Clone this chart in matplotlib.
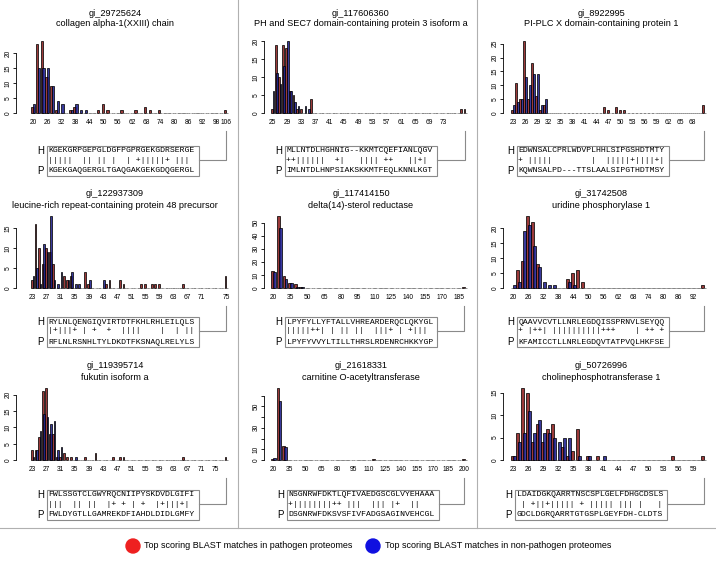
import matplotlib

matplotlib.use("Agg")
import matplotlib.pyplot as plt
from matplotlib.patches import Rectangle, Circle

W, H = 716, 562
RED = "#8e1f1f"
BLUE = "#1f1f8e"
GREY = "#707070"

# ---- data: counts of top BLAST matches by length bin -------------------
P1_RED = {20: 2, 22: 23, 24: 24, 26: 12, 28: 9, 30: 1, 36: 1, 38: 2, 48: 1, 50: 3,
          52: 1, 58: 1, 64: 1, 68: 2, 70: 1, 74: 1, 102: 1}
P1_BLUE = {20: 3, 22: 15, 24: 15, 26: 15, 28: 9, 30: 4, 32: 3, 36: 1, 38: 3, 40: 1, 42: 1}
P1_XLABELS = ["20", "26", "32", "38", "44", "50", "56", "62", "68", "74", "80", "86", "92", "98", "106"]

P2_RED = {25: 1, 26: 19, 27: 10, 28: 19, 29: 18, 30: 6, 31: 5, 32: 1, 33: 1, 36: 4, 78: 1, 79: 1}
P2_BLUE = {25: 6, 26: 11, 27: 8, 28: 13, 29: 20, 30: 6, 31: 3, 32: 2, 34: 2, 35: 1}
P2_XLABELS = ["25", "29", "33", "37", "41", "45", "49", "53", "57", "61", "65", "69", "73"]

P3_RED = {23: 1, 24: 11, 25: 5, 26: 26, 27: 5, 28: 18, 29: 6, 30: 1, 31: 3, 46: 2, 47: 1,
          49: 2, 50: 1, 51: 1, 71: 3}
P3_BLUE = {23: 3, 24: 4, 25: 5, 26: 13, 27: 10, 28: 14, 29: 14, 30: 3, 31: 5}
P3_XLABELS = ["23", "26", "29", "32", "35", "38", "41", "44", "47", "50", "53", "56", "59", "62", "65", "68"]

P4_RED = {23: 2, 24: 16, 25: 10, 26: 6, 27: 10, 28: 9, 29: 6, 32: 3, 33: 2, 34: 3, 38: 4,
          39: 1, 44: 1, 45: 2, 48: 2, 49: 1, 54: 1, 55: 1, 57: 1, 58: 1, 59: 1, 66: 1, 78: 3}
P4_BLUE = {23: 3, 24: 5, 25: 1, 26: 11, 27: 9, 28: 18, 29: 2, 30: 1, 31: 4, 33: 2, 34: 4,
           35: 1, 36: 1, 39: 2, 43: 2}
P4_XLABELS = ["23", "27", "31", "35", "39", "43", "47", "51", "55", "59", "63", "67", "71", "75"]

P5_RED = {20: 13, 25: 55, 30: 9, 35: 4, 40: 3, 45: 1, 190: 1}
P5_BLUE = {20: 12, 25: 46, 30: 7, 35: 4, 40: 1, 45: 1}
P5_XLABELS = ["20", "35", "50", "65", "80", "95", "110", "125", "140", "155", "170", "185"]

P6_RED = {22: 6, 24: 9, 26: 24, 28: 22, 30: 8, 42: 3, 44: 5, 46: 6, 48: 2, 96: 1}
P6_BLUE = {20: 1, 22: 2, 24: 19, 26: 21, 28: 14, 30: 7, 32: 2, 34: 1, 36: 1, 42: 2, 44: 1}
P6_XLABELS = ["20", "26", "32", "38", "44", "50", "56", "62", "68", "74", "80", "86", "92"]

P7_RED = {23: 3, 24: 3, 25: 7, 26: 21, 27: 22, 28: 8, 29: 8, 30: 1, 31: 1, 32: 2, 33: 1,
          34: 1, 38: 1, 41: 2, 46: 1, 48: 1, 49: 1, 66: 1, 78: 1}
P7_BLUE = {23: 1, 24: 3, 25: 9, 26: 14, 27: 13, 28: 11, 29: 12, 30: 3, 31: 4, 35: 1}
P7_XLABELS = ["23", "27", "31", "35", "39", "43", "47", "51", "55", "59", "63", "67", "71", "75"]

P8_RED = {20: 1, 25: 67, 30: 13, 115: 1, 200: 1}
P8_BLUE = {20: 2, 25: 55, 30: 12}
P8_XLABELS = ["20", "35", "50", "65", "80", "95", "110", "125", "140", "155", "170", "185", "200"]

P9_RED = {23: 1, 24: 6, 25: 16, 26: 15, 27: 4, 28: 8, 29: 4, 30: 7, 31: 8, 33: 3, 34: 1,
          35: 2, 36: 7, 38: 1, 40: 1, 55: 1, 61: 1}
P9_BLUE = {23: 1, 24: 4, 25: 6, 26: 11, 27: 6, 28: 9, 29: 6, 30: 6, 31: 5, 32: 4, 33: 5,
           34: 5, 36: 1, 38: 1, 41: 1}
P9_XLABELS = ["23", "26", "29", "32", "35", "38", "41", "44", "47", "50", "53", "56", "59"]

# alignments: human (H), match line, pathogen (P)
ALIGN = [
    ("KGEKGRPGEPGLDGFPGPRGEKGDRSERGE", "|||||  || || |  | +|||||+ ||| ", "KGEKGAQGERGLTGAQGAKGEKGDQGERGL"),
    ("MLLNTDLHGHNIG--KKMTCQEFIANLQGV", "++||||||  +|   |||| ++   ||+| ", "IMLNTDLHNPSIAKSKKMTFEQLKNNLKGT"),
    ("EDWNSALCPRLWDVPLHHLSIPGSHDTMTY", "+ |||||        |  |||||+||||+|", "KQWNSALPD---TTSLAALSIPGTHDTMSY"),
    ("RYLNLQENGIQVIRTDTFKHLRHLEILQLS", "|+|||+ | +  +  ||||    |  | ||", "RFLNLRSNHLTYLDKDTFKSNAQLRELYLS"),
    ("LPYFYLLYFTALLVHREARDERQCLQKYGL", "|||||++| | || ||  |||+ | +||| ", "LPYFYVVYLTILLTHRSLRDENRCHKKYGP"),
    ("QAAVVCVTLLNRLEGDQISSPRNVLSEYQQ", "+ |++| ||||||||||+++    | ++ +", "KFAMICCTLLNRLEGDQVTATPVQLHKFSE"),
    ("FWLSSGTCLGWYRQCNIIPYSKDVDLGIFI", "|||  || ||  |+ + | +  |+|||+| ", "FWLDYGTLLGAMREKDFIAHDLDIDLGMFY"),
    ("NSGNRWFDKTLQFIVAEDGSCGLVYEHAAA", "+||||||||++ |||  ||| |+  ||   ", "DSGNRWFDKSVSFIVFADGSAGINVEHCGL"),
    ("LDAIDGKQARRTNSCSPLGELFDHGCDSLS", " | +||+||||| + ||||| ||| |   |", "GDCLDGRQARRTGTGSPLGEYFDH-CLDTS"),
]

PANELS = [
    dict(gi="gi_29725624", name="collagen alpha-1(XXIII) chain", start=20, step=2, n=42, every=3,
         labels=P1_XLABELS, last_at_end=True, red=P1_RED, blue=P1_BLUE, yticks=range(0, 21, 5)),
    dict(gi="gi_117606360", name="PH and SEC7 domain-containing protein 3 isoform a", start=25, step=1,
         n=55, every=4, labels=P2_XLABELS, last_at_end=False, red=P2_RED, blue=P2_BLUE, yticks=range(0, 21, 5)),
    dict(gi="gi_8922995", name="PI-PLC X domain-containing protein 1", start=23, step=1, n=49, every=3,
         labels=P3_XLABELS, last_at_end=False, red=P3_RED, blue=P3_BLUE, yticks=range(0, 26, 5)),
    dict(gi="gi_122937309", name="leucine-rich repeat-containing protein 48 precursor", start=23, step=1,
         n=56, every=4, labels=P4_XLABELS, last_at_end=True, red=P4_RED, blue=P4_BLUE, yticks=range(0, 16, 5)),
    dict(gi="gi_117414150", name="delta(14)-sterol reductase", start=20, step=5, n=35, every=3,
         labels=P5_XLABELS, last_at_end=False, red=P5_RED, blue=P5_BLUE, yticks=range(0, 51, 10)),
    dict(gi="gi_31742508", name="uridine phosphorylase 1", start=20, step=2, n=39, every=3,
         labels=P6_XLABELS, last_at_end=False, red=P6_RED, blue=P6_BLUE, yticks=range(0, 21, 5)),
    dict(gi="gi_119395714", name="fukutin isoform a", start=23, step=1, n=56, every=4,
         labels=P7_XLABELS, last_at_end=False, red=P7_RED, blue=P7_BLUE, yticks=range(0, 21, 5)),
    dict(gi="gi_21618331", name="carnitine O-acetyltransferase", start=20, step=5, n=37, every=3,
         labels=P8_XLABELS, last_at_end=False, red=P8_RED, blue=P8_BLUE, yticks=range(0, 61, 10),
         skip=(20, 40, 60)),
    dict(gi="gi_50726996", name="cholinephosphotransferase 1", start=23, step=1, n=39, every=3,
         labels=P9_XLABELS, last_at_end=False, red=P9_RED, blue=P9_BLUE, yticks=range(0, 16, 5)),
]

# ---- layout (pixels) ---------------------------------------------------
AXIS_LEFT = [16, 264, 503]
BAR_START = [31, 271, 511]
BAR_END = [228, 467, 706]
TITLE_X = [115, 361, 601]
ROW_Y0 = [113, 288, 460]
ROW_TITLE = [13, 194, 366]
ROW_HOFF = [38, 34, 35]
BOX_LEFT = [[47, 285, 517], [47, 285, 517], [47, 287, 515]]
PLOT_H = 72

fig = plt.figure(figsize=(W / 100, H / 100), dpi=100)
bg = fig.add_axes([0, 0, 1, 1])
bg.set_xlim(0, W)
bg.set_ylim(H, 0)
bg.axis("off")

# column separators and legend band
for x in (238, 477):
    bg.plot([x, x], [0, 528], color="#b0b0b0", lw=0.8)
bg.plot([0, W], [528, 528], color="#b0b0b0", lw=0.8)

mono = "Liberation Mono"
sans = "Liberation Sans"

for k, pnl in enumerate(PANELS):
    row, col = divmod(k, 3)
    n = pnl["n"]
    cats = [pnl["start"] + pnl["step"] * i for i in range(n)]
    red = [pnl["red"].get(c, 0) for c in cats]
    blue = [pnl["blue"].get(c, 0) for c in cats]
    ymax = max(red + blue)

    y0 = ROW_Y0[row]
    left, bstart, bend = AXIS_LEFT[col], BAR_START[col], BAR_END[col]
    ax = fig.add_axes([left / W, 1 - y0 / H, (bend - left) / W, PLOT_H / H])
    ppu = (bend - bstart) / n
    ax.set_xlim(-0.5 - (bstart - left) / ppu, n - 0.5)
    ax.set_ylim(0, ymax)
    ax.patch.set_alpha(0)

    idx = list(range(n))
    for vals, off, colr in ((red, -0.19, RED), (blue, 0.19, BLUE)):
        ax.bar([i + off for i in idx], vals, width=0.5, color=colr, alpha=0.88,
               edgecolor=[GREY if v == 0 else "none" for v in vals], linewidth=0.6,
               clip_on=False)

    labels = pnl["labels"]
    pos = [i * pnl["every"] for i in range(len(labels))]
    if pnl["last_at_end"]:
        pos[-1] = n - 1
    ax.set_xticks(pos)
    ax.set_xticklabels(labels, fontsize=4.8, family=sans)
    ax.tick_params(axis="x", length=0, pad=4)

    yt = list(pnl["yticks"])
    skip = pnl.get("skip", ())
    ax.set_yticks(yt)
    ax.set_yticklabels(["" if v in skip else str(v) for v in yt], fontsize=4.8, family=sans,
                       rotation=90, va="center")
    ax.tick_params(axis="y", length=2.2, width=0.6, pad=0.8)
    for s in ("top", "right", "bottom"):
        ax.spines[s].set_visible(False)
    ax.spines["left"].set_bounds(yt[0], yt[-1])
    ax.spines["left"].set_linewidth(0.6)

    # titles
    ty = ROW_TITLE[row]
    bg.text(TITLE_X[col], ty, pnl["gi"], ha="center", va="center", fontsize=6.6, family=sans)
    bg.text(TITLE_X[col], ty + 11, pnl["name"], ha="center", va="center", fontsize=6.6, family=sans)

    # alignment box
    hseq, mline, pseq = ALIGN[k]
    bx = BOX_LEFT[row][col]
    hy = y0 + ROW_HOFF[row]
    my = hy + 9
    py = hy + 20
    cw = 4.98
    bw = cw * len(hseq) + 3
    bg.add_patch(Rectangle((bx, hy - 5), bw, py - hy + 10, fill=False, ec="#8a8a8a", lw=0.8))
    for yy, s in ((hy, hseq), (my, mline), (py, pseq)):
        bg.text(bx + 1.5, yy, s, ha="left", va="center", fontsize=5.9, family=mono)
    bg.text(bx - 3, hy, "H", ha="right", va="center", fontsize=7, family=sans)
    bg.text(bx - 3, py, "P", ha="right", va="center", fontsize=7, family=sans)

    # connector from box to the last bar
    xlast = bstart + ppu * (n - 0.5)
    bg.plot([bx + bw, xlast, xlast], [my, my, y0 + 18], color="#8a8a8a", lw=0.8)

# legend
bg.add_patch(Circle((133, 546), 7, color="#ee2020"))
bg.text(144, 546, "Top scoring BLAST matches in pathogen proteomes", ha="left", va="center",
        fontsize=6.5, family=sans)
bg.add_patch(Circle((373, 546), 7, color="#1010e0"))
bg.text(385, 546, "Top scoring BLAST matches in non-pathogen proteomes", ha="left", va="center",
        fontsize=6.5, family=sans)

fig.savefig("out.png", dpi=100)
